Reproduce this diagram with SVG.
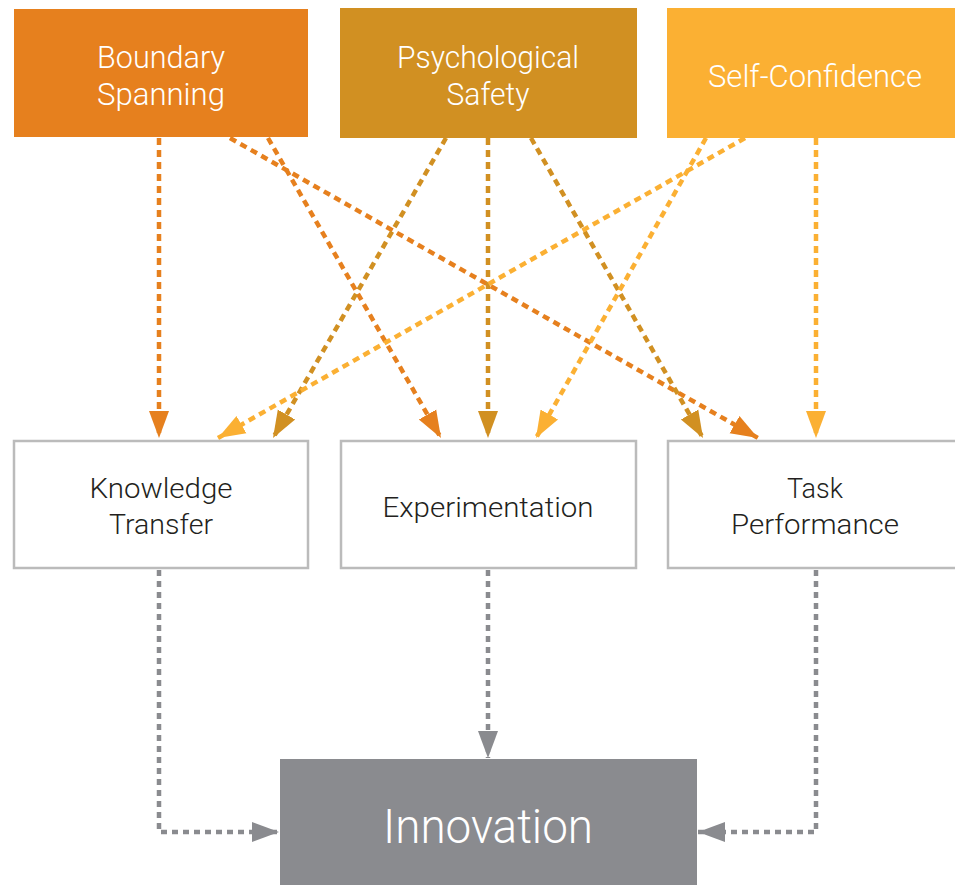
<svg xmlns="http://www.w3.org/2000/svg" width="955" height="885" viewBox="0 0 955 885">
<style>
.t{font-family:Roboto,"Liberation Sans",sans-serif;font-weight:300;text-anchor:middle}
.w{fill:#ffffff;font-size:32px}
.k{fill:#231f20;font-size:28.5px}
.mid{fill:#ffffff;stroke:#bbbbbb;stroke-width:2.5}
.c{fill:none;stroke-width:4.5;stroke-dasharray:7 5}
.o{stroke:#e6801e}
.g{stroke:#d19022}
.y{stroke:#fbb033}
.gr{stroke:#8a8b8f;stroke-dasharray:6 5}
</style>
<defs>
<marker id="mo" markerUnits="userSpaceOnUse" markerWidth="28" markerHeight="22" refX="27" refY="11" orient="auto"><path d="M0,1 L27,11 L0,21 z" fill="#e6801e"/></marker>
<marker id="mg" markerUnits="userSpaceOnUse" markerWidth="28" markerHeight="22" refX="27" refY="11" orient="auto"><path d="M0,1 L27,11 L0,21 z" fill="#d19022"/></marker>
<marker id="my" markerUnits="userSpaceOnUse" markerWidth="28" markerHeight="22" refX="27" refY="11" orient="auto"><path d="M0,1 L27,11 L0,21 z" fill="#fbb033"/></marker>
<marker id="mr" markerUnits="userSpaceOnUse" markerWidth="28" markerHeight="22" refX="27" refY="11" orient="auto"><path d="M0,1 L27,11 L0,21 z" fill="#8a8b8f"/></marker>
</defs>
<g id="connectors">
<path class="c o" d="M159,138 L159,438" marker-end="url(#mo)"/>
<path class="c o" d="M268,138 L441,438" marker-end="url(#mo)"/>
<path class="c o" d="M230,138 L758,438" marker-end="url(#mo)"/>
<path class="c g" d="M446,138 L273,438" marker-end="url(#mg)"/>
<path class="c g" d="M488,138 L488,438" marker-end="url(#mg)"/>
<path class="c g" d="M531,138 L703,438" marker-end="url(#mg)"/>
<path class="c y" d="M745,138 L218,438" marker-end="url(#my)"/>
<path class="c y" d="M706,138 L536,438" marker-end="url(#my)"/>
<path class="c y" d="M816,138 L816,438" marker-end="url(#my)"/>
<path class="c gr" d="M159,570 L159,832 L279,832" marker-end="url(#mr)"/>
<path class="c gr" d="M488,570 L488,758" marker-end="url(#mr)"/>
<path class="c gr" d="M816,570 L816,832 L698,832" marker-end="url(#mr)"/>
</g>
<g id="boundary-spanning">
<rect x="14" y="9" width="294" height="128" fill="#e6801e"/>
<text class="t w" x="161" y="68" textLength="128" lengthAdjust="spacingAndGlyphs">Boundary</text>
<text class="t w" x="161" y="105" textLength="128" lengthAdjust="spacingAndGlyphs">Spanning</text>
</g>
<g id="psychological-safety">
<rect x="340" y="8" width="297" height="130" fill="#d19022"/>
<text class="t w" x="488" y="68" textLength="182" lengthAdjust="spacingAndGlyphs">Psychological</text>
<text class="t w" x="488" y="105" textLength="83" lengthAdjust="spacingAndGlyphs">Safety</text>
</g>
<g id="self-confidence">
<rect x="667" y="8" width="288" height="130" fill="#fbb033"/>
<text class="t w" x="815" y="87" textLength="214" lengthAdjust="spacingAndGlyphs">Self-Confidence</text>
</g>
<g id="knowledge-transfer">
<rect class="mid" x="14" y="441" width="294" height="127"/>
<text class="t k" x="161" y="498" textLength="143" lengthAdjust="spacingAndGlyphs">Knowledge</text>
<text class="t k" x="161" y="534" textLength="104" lengthAdjust="spacingAndGlyphs">Transfer</text>
</g>
<g id="experimentation">
<rect class="mid" x="341" y="441" width="295" height="127"/>
<text class="t k" x="488" y="517" textLength="211" lengthAdjust="spacingAndGlyphs">Experimentation</text>
</g>
<g id="task-performance">
<rect class="mid" x="668" y="441" width="290" height="127"/>
<text class="t k" x="815" y="498" textLength="56" lengthAdjust="spacingAndGlyphs">Task</text>
<text class="t k" x="815" y="534" textLength="168" lengthAdjust="spacingAndGlyphs">Performance</text>
</g>
<g id="innovation">
<rect x="280" y="759" width="417" height="126" fill="#8a8b8f"/>
<text class="t" x="488" y="843" fill="#ffffff" font-size="48" textLength="210" lengthAdjust="spacingAndGlyphs">Innovation</text>
</g>
</svg>
